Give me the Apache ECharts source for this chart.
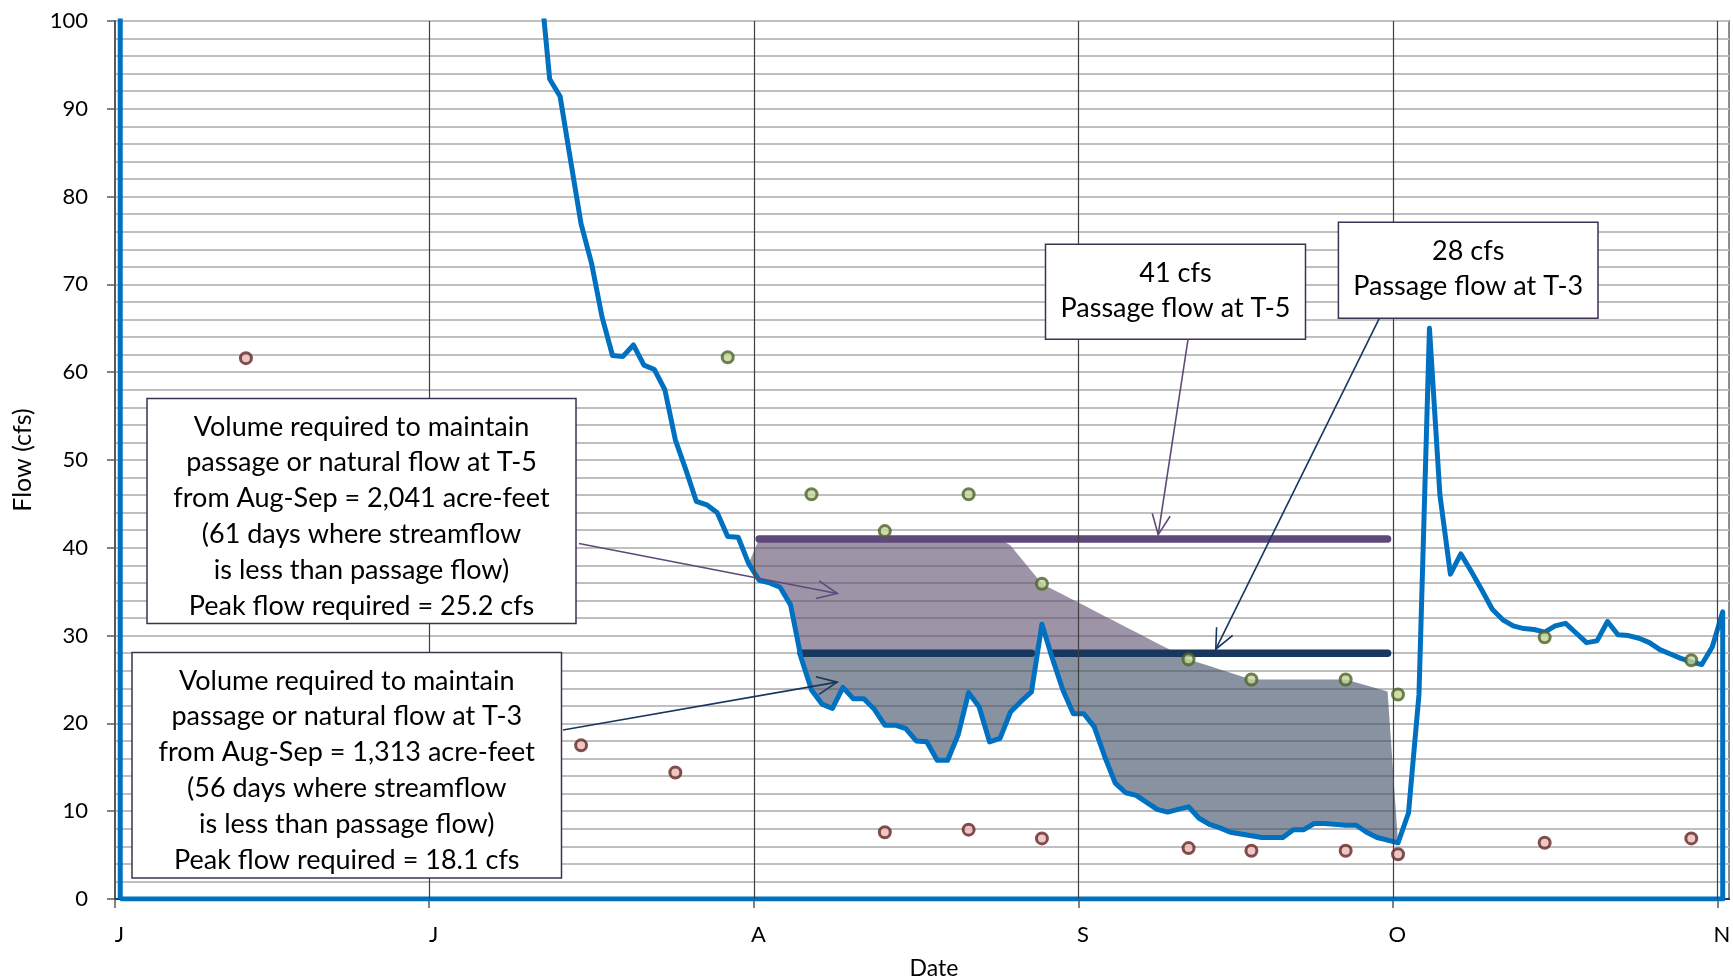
<!DOCTYPE html>
<html>
<head>
<meta charset="utf-8">
<title>Flow</title>
<script src="https://cdn.jsdelivr.net/npm/echarts@6/dist/echarts.min.js"></script>
<style>
  html, body { margin: 0; padding: 0; background: #fff; }
  #chart { width: 1733px; height: 980px; }
</style>
</head>
<body>
<div id="chart"></div>
<script>
// x axis = days since Jun 1 (day 0); daily values sit at noon
var monthStarts = [0, 30, 61, 92, 122, 153];
var monthLabels = ['J', 'J', 'A', 'S', 'O', 'N'];

// daily streamflow (cfs), Jun 1 .. Nov 1 (June values run off the top)
var flow = [
  210, 225, 240, 260, 275, 290, 300, 310, 305, 298, 290, 285, 276, 268, 262, 255, 247, 240, 232, 226,
  219, 212, 206, 199, 193, 187, 181, 175, 168, 162, 157, 151, 146, 140, 135, 130, 125, 120, 115, 111, 106,
  93.4, 91.4, 84.1, 76.9, 72.4, 66.3, 61.9, 61.8, 63.1, 60.8, 60.3, 58.0, 52.3, 48.9, 45.3, 44.9, 44.0, 41.3, 41.2, 38.2,
  36.3, 36.0, 35.5, 33.5, 27.5, 23.8, 22.2, 21.7, 24.1, 22.8, 22.8, 21.6, 19.8, 19.8, 19.4, 18.0, 17.9, 15.8, 15.8, 18.7,
  23.5, 21.9, 17.9, 18.3, 21.3, 22.5, 23.6, 31.3, 27.4, 23.8, 21.1, 21.1, 19.6, 16.2, 13.2, 12.1, 11.8, 11.0, 10.2, 9.9,
  10.2, 10.5, 9.2, 8.5, 8.1, 7.6, 7.4, 7.2, 7.0, 7.0, 7.0, 7.9, 7.9, 8.6, 8.6, 8.5, 8.4, 8.4, 7.6, 7.0,
  6.7, 6.4, 9.8, 23.3, 65.0, 46.0, 37.0, 39.3, 37.3, 35.2, 33.0, 31.8, 31.1, 30.8, 30.7, 30.4, 31.1, 31.4, 30.3, 29.2,
  29.4, 31.6, 30.1, 30.0, 29.7, 29.2, 28.4, 27.9, 27.4, 27.0, 26.7, 28.7, 32.7
];

// natural flow samples (green) and low samples (red)
var natDays = [58, 66, 73, 81, 88, 102, 108, 117, 122, 136, 150];
var natFlow = [61.7, 46.1, 41.9, 46.1, 35.9, 27.3, 25.0, 25.0, 23.3, 29.8, 27.2];
var lowDays = [12, 44, 53, 73, 81, 88, 102, 108, 117, 122, 136, 150];
var lowFlow = [61.6, 17.5, 14.4, 7.6, 7.9, 6.9, 5.8, 5.5, 5.5, 5.1, 6.4, 6.9];

var passT5 = 41;
var passT3 = 28;
var augFirst = 61, sepLast = 121;

// where the arrows point (day, cfs)
var arrowTips = [[68.95, 34.8], [68.95, 24.7], [99.6, 41.5], [105.1, 28.45]];

function natAt(d) {
  for (var i = 0; i < natDays.length - 1; i++) {
    if (d >= natDays[i] && d <= natDays[i + 1]) {
      var t = (d - natDays[i]) / (natDays[i + 1] - natDays[i]);
      return natFlow[i] + t * (natFlow[i + 1] - natFlow[i]);
    }
  }
  return natFlow[natFlow.length - 1];
}

// flow line, closed back along the bottom like the original plot
var flowPts = [[0.5, 0]];
for (var i = 0; i < flow.length; i++) flowPts.push([i + 0.5, flow[i]]);
flowPts.push([flow.length - 0.5, 0]);
flowPts.push([0.5, 0]);

// bands: flow -> T-3 requirement (dark), -> T-5 requirement (purple)
var darkBand = [], purpBand = [], t5Line = [], t3Line = [];
for (var d = augFirst - 1; d <= sepLast + 1; d++) {
  var f = flow[d];
  var inside = d >= augFirst && d <= sepLast;
  var top1 = inside ? Math.max(f, Math.min(passT3, natAt(d))) : f;
  var top2 = inside ? Math.max(top1, Math.min(passT5, natAt(d))) : f;
  darkBand.push([d + 0.5, f, top1]);
  purpBand.push([d + 0.5, top1, top2]);
  if (inside) {
    t5Line.push([d + 0.5, f < passT5 ? passT5 : '-']);
    t3Line.push([d + 0.5, f < passT3 ? passT3 : '-']);
  }
}

var natPts = natDays.map(function (d, k) { return [d + 0.5, natFlow[k]]; });
var lowPts = lowDays.map(function (d, k) { return [d + 0.5, lowFlow[k]]; });

// one polygon per band, built through the axes
function bandSeries(name, rows, fill) {
  return {
    name: name, type: 'custom', data: rows, silent: true, z: 2,
    encode: { x: 0, y: [1, 2] },
    renderItem: function (params, api) {
      if (params.dataIndex !== 0) return;
      var upper = rows.map(function (r) { return api.coord([r[0], r[2]]); });
      var lower = rows.map(function (r) { return api.coord([r[0], r[1]]); }).reverse();
      return { type: 'polygon', shape: { points: upper.concat(lower) }, style: { fill: fill } };
    }
  };
}

var font = 'Lato, "Open Sans", sans-serif';
var chart = echarts.init(document.getElementById('chart'));

chart.setOption({
  backgroundColor: '#fff',
  animation: false,
  grid: {
    left: 115, right: 4, top: 21, bottom: 81,
    outerBoundsMode: 'none',
    show: true, borderColor: '#8c8c8c', borderWidth: 2
  },
  xAxis: {
    type: 'value',
    min: 0,
    max: 154.1,
    name: 'Date',
    nameLocation: 'middle',
    nameGap: 58,
    nameTextStyle: { fontFamily: font, fontSize: 23, color: '#000', padding: [0, 0, 0, 24] },
    axisLine: { lineStyle: { color: '#17375e', width: 2 } },
    axisTick: { customValues: monthStarts, length: 9, lineStyle: { color: '#595959', width: 1.5 } },
    axisLabel: {
      customValues: monthStarts,
      margin: 25,
      padding: [0, 0, 0, 9],
      fontFamily: font, fontSize: 22, color: '#000',
      formatter: function (v) {
        var k = monthStarts.indexOf(v);
        return k >= 0 ? monthLabels[k] : '';
      }
    },
    splitLine: { show: false }
  },
  yAxis: {
    type: 'value',
    min: 0,
    max: 100,
    interval: 10,
    name: 'Flow (cfs)',
    nameLocation: 'middle',
    nameGap: 80,
    nameTextStyle: { fontFamily: font, fontSize: 25, color: '#000' },
    axisLine: { show: true, lineStyle: { color: '#595959', width: 2 } },
    axisTick: { show: true, length: 8, lineStyle: { color: '#595959', width: 1.5 } },
    axisLabel: { margin: 27, fontFamily: font, fontSize: 22, color: '#000' },
    splitLine: { lineStyle: { color: '#bfbfbf', width: 2 } },
    minorTick: { show: false, splitNumber: 5 },
    minorSplitLine: { show: true, lineStyle: { color: '#bfbfbf', width: 2 } }
  },
  series: [
    {
      name: 'months', type: 'line', data: [], silent: true, z: 1,
      markLine: {
        silent: true, symbol: 'none', label: { show: false },
        lineStyle: { color: '#404040', width: 1.2, type: 'solid' },
        data: monthStarts.slice(1).map(function (m) { return { xAxis: m }; })
      }
    },
    bandSeries('T-3 volume', darkBand, 'rgba(58,74,96,0.6)'),
    bandSeries('T-5 volume', purpBand, 'rgba(94,76,110,0.6)'),
    {
      name: 'T-5 passage', type: 'line', data: t5Line, showSymbol: false, z: 3,
      lineStyle: { color: '#5f497a', width: 7.5, cap: 'round' }
    },
    {
      name: 'T-3 passage', type: 'line', data: t3Line, showSymbol: false, z: 3,
      lineStyle: { color: '#17375e', width: 7.5, cap: 'round' }
    },
    {
      name: 'Flow', type: 'line', data: flowPts, showSymbol: false, z: 4,
      lineStyle: { color: '#0070c0', width: 5, join: 'round' }
    },
    {
      name: 'Natural', type: 'scatter', data: natPts, symbolSize: 11, z: 5,
      itemStyle: { color: '#c3d69b', borderColor: '#4f6228', borderWidth: 3 }
    },
    {
      name: 'Low', type: 'scatter', data: lowPts, symbolSize: 11, z: 5,
      itemStyle: { color: '#e6b9b8', borderColor: '#632523', borderWidth: 3 }
    }
  ]
});

// annotation boxes (pixel layout) and arrows pointing at data
var boxes = [
  { x: 147, y: 398.5, w: 429, h: 225, cy: 516.4, lh: 35.8,
    text: 'Volume required to maintain\npassage or natural flow at T-5\nfrom Aug-Sep = 2,041 acre-feet\n(61 days where streamflow\nis less than passage flow)\nPeak flow required = 25.2 cfs' },
  { x: 132, y: 652.5, w: 429.5, h: 225.5, cy: 770.3, lh: 35.8,
    text: 'Volume required to maintain\npassage or natural flow at T-3\nfrom Aug-Sep = 1,313 acre-feet\n(56 days where streamflow\nis less than passage flow)\nPeak flow required = 18.1 cfs' },
  { x: 1045.5, y: 244.3, w: 260, h: 95, cy: 290.7, lh: 35.4,
    text: '41 cfs\nPassage flow at T-5' },
  { x: 1338.4, y: 222.3, w: 259.6, h: 96, cy: 268.9, lh: 34.3,
    text: '28 cfs\nPassage flow at T-3' }
];
var arrowStarts = [[579, 543.5], [563, 730], [1188, 339.5], [1379.3, 318.3]];
var arrowColors = ['#5f497a', '#17375e', '#5f497a', '#17375e'];

function arrow(p0, p1, color) {
  var dx = p1[0] - p0[0], dy = p1[1] - p0[1];
  var len = Math.sqrt(dx * dx + dy * dy);
  var ux = dx / len, uy = dy / len;
  var h = 20, w = 9;
  var bx = p1[0] - ux * h, by = p1[1] - uy * h;
  return [
    { type: 'line', z: 20, shape: { x1: p0[0], y1: p0[1], x2: p1[0], y2: p1[1] },
      style: { stroke: color, lineWidth: 1.6 } },
    { type: 'polyline', z: 20, shape: { points: [[bx - uy * w, by + ux * w], p1, [bx + uy * w, by - ux * w]] },
      style: { stroke: color, lineWidth: 1.6, fill: null } }
  ];
}

var g = [];
boxes.forEach(function (b) {
  g.push({ type: 'rect', z: 10, shape: { x: b.x, y: b.y, width: b.w, height: b.h },
    style: { fill: '#fff', stroke: '#3f3151', lineWidth: 1.5 } });
  g.push({ type: 'text', z: 11, x: b.x + b.w / 2, y: b.cy,
    style: { text: b.text, font: '27px ' + font, fill: '#000', align: 'center',
      verticalAlign: 'middle', lineHeight: b.lh } });
});
arrowTips.forEach(function (t, k) {
  var p = chart.convertToPixel({ xAxisIndex: 0, yAxisIndex: 0 }, t);
  g = g.concat(arrow(arrowStarts[k], p, arrowColors[k]));
});
chart.setOption({ graphic: g });
</script>
</body>
</html>
